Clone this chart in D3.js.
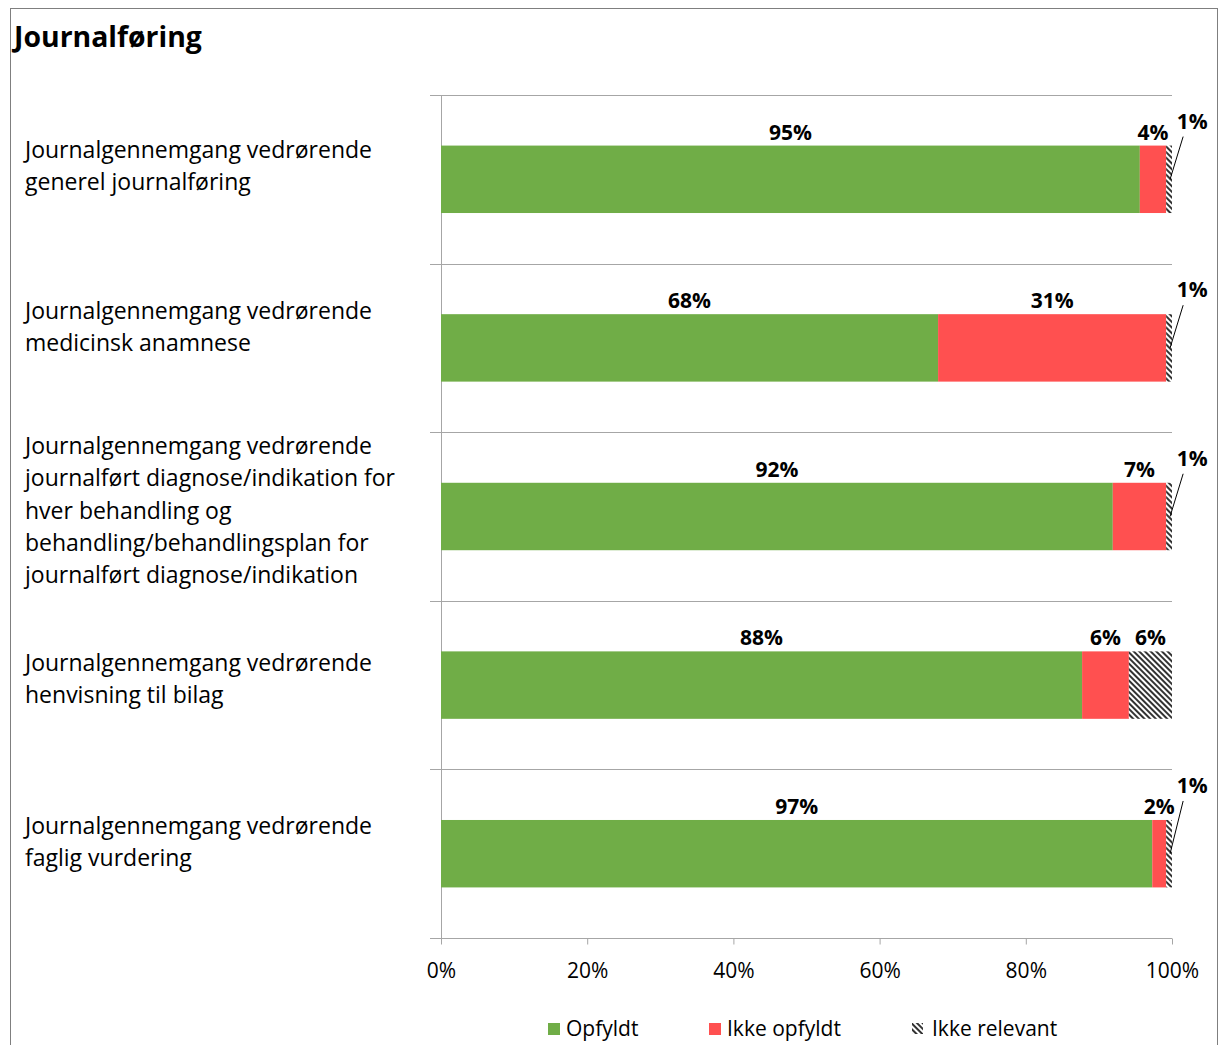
<!DOCTYPE html>
<html><head><meta charset="utf-8">
<script src="https://cdn.jsdelivr.net/npm/d3@7"></script>
<style>body{margin:0;background:#fff}svg{display:block}text{font-family:"Open Sans",Lato,sans-serif;fill:#000}</style>
</head><body><svg id="c" width="1219" height="1045"></svg>
<script>
const title = "Journalføring";
const categories = [
  ["Journalgennemgang vedrørende","generel journalføring"],
  ["Journalgennemgang vedrørende","medicinsk anamnese"],
  ["Journalgennemgang vedrørende","journalført diagnose/indikation for","hver behandling og","behandling/behandlingsplan for","journalført diagnose/indikation"],
  ["Journalgennemgang vedrørende","henvisning til bilag"],
  ["Journalgennemgang vedrørende","faglig vurdering"]
];
const seriesNames = ["Opfyldt","Ikke opfyldt","Ikke relevant"];
const opfyldt     = [95.6, 68.0, 91.9, 87.7, 97.3];
const ikkeOpfyldt = [3.6, 31.2, 7.3, 6.4, 1.9];
const ikkeRelevant= [0.8, 0.8, 0.8, 5.9, 0.8];
const labelsOpfyldt = ["95%","68%","92%","88%","97%"];
const labelsIkke    = ["4%","31%","7%","6%","2%"];
const labelsRel     = ["1%","1%","1%","6%","1%"];
const xTicks = [0,20,40,60,80,100];

const svg = d3.select("#c");
const defs = svg.append("defs");
const pat = defs.append("pattern").attr("id","hatch").attr("patternUnits","userSpaceOnUse")
  .attr("width",4).attr("height",4).attr("patternTransform","rotate(-45)");
pat.append("rect").attr("width",4).attr("height",4).attr("fill","#fff");
pat.append("rect").attr("x",0).attr("width",2).attr("height",4).attr("fill","#333");

// border
svg.append("rect").attr("x",10.5).attr("y",8.5).attr("width",1207).attr("height",1100)
  .attr("fill","none").attr("stroke","#7f7f7f").attr("stroke-width",1);

svg.append("text").attr("x",14).attr("y",47).attr("font-size",28.4).attr("font-weight","bold").text(title);

const x = d3.scaleLinear().domain([0,100]).range([441,1172]);
const y = d3.scaleBand().domain(d3.range(categories.length)).range([95,938]).paddingInner(0).paddingOuter(0);
const bh = y.bandwidth()*0.4;
const colors = ["#70AD47","#FF5050","url(#hatch)"];

const rows = categories.map((c,i)=>({i, vals:[opfyldt[i],ikkeOpfyldt[i],ikkeRelevant[i]], labs:[labelsOpfyldt[i],labelsIkke[i],labelsRel[i]]}));

// gridlines (category separators)
const sepY = d3.range(categories.length).map(i=>y(i));
svg.append("g").selectAll("line").data(sepY).join("line")
  .attr("x1",430).attr("x2",1172).attr("y1",d=>Math.round(d)+0.5).attr("y2",d=>Math.round(d)+0.5)
  .attr("stroke","#a6a6a6");

// x axis
const xAxis = d3.axisBottom(x).tickValues(xTicks).tickFormat(d=>d+"%").tickSize(6).tickPadding(19);
const gx = svg.append("g").attr("transform","translate(0,938.5)").call(xAxis);
gx.select(".domain").attr("d","M430,0H1172").attr("stroke","#a6a6a6");
gx.selectAll(".tick line").attr("stroke","#a6a6a6");
gx.selectAll(".tick text").attr("font-size",21).attr("fill","#000").style("font-family","'Open Sans',sans-serif");
// y axis line
svg.append("line").attr("x1",441.5).attr("x2",441.5).attr("y1",95).attr("y2",938).attr("stroke","#a6a6a6");

// bars
const bars = svg.append("g");
rows.forEach(r=>{
  let acc=0;
  const cy = y(r.i)+y.bandwidth()/2;
  const top = cy-bh/2;
  r.vals.forEach((v,k)=>{
    bars.append("rect").attr("x",x(acc)).attr("y",top).attr("width",x(acc+v)-x(acc)).attr("height",bh)
      .attr("fill",colors[k]);
    const mid = x(acc+v/2);
    if (v>3 || k===1) {
      bars.append("text").attr("x",mid).attr("y",top-6).attr("text-anchor","middle")
        .attr("font-size",21).attr("font-weight","bold").text(r.labs[k]);
    } else {
      const lx = x(acc)+26;
      const ly = top - (r.vals[1]<3 ? 27 : 17);
      bars.append("line").attr("x1",mid+1).attr("y1",cy).attr("x2",lx-9).attr("y2",ly+8)
        .attr("stroke","#000").attr("stroke-width",1);
      bars.append("text").attr("x",lx).attr("y",ly).attr("text-anchor","middle")
        .attr("font-size",21).attr("font-weight","bold").text(r.labs[k]);
    }
    acc+=v;
  });
});

// category labels
const labelShift = [-12,-20,-5,-5,-11];
categories.forEach((lines,i)=>{
  const cy = y(i)+y.bandwidth()/2 + labelShift[i];
  const lh = 32.3;
  const t = svg.append("text").attr("font-size",23).attr("x",25);
  lines.forEach((ln,j)=>{
    t.append("tspan").attr("x",25).attr("y",cy + (j-(lines.length-1)/2)*lh + 7).text(ln);
  });
});

// legend
const legX = [548,709,912];
const lg = svg.append("g");
seriesNames.forEach((s,k)=>{
  const sz = k===2 ? 11 : 12;
  lg.append("rect").attr("x",legX[k]).attr("y",1023).attr("width",sz).attr("height",sz).attr("fill",colors[k]);
  lg.append("text").attr("x",legX[k]+(k===2?20:18)).attr("y",1036).attr("font-size",21).attr("fill","#222").text(s);
});
</script></body></html>
